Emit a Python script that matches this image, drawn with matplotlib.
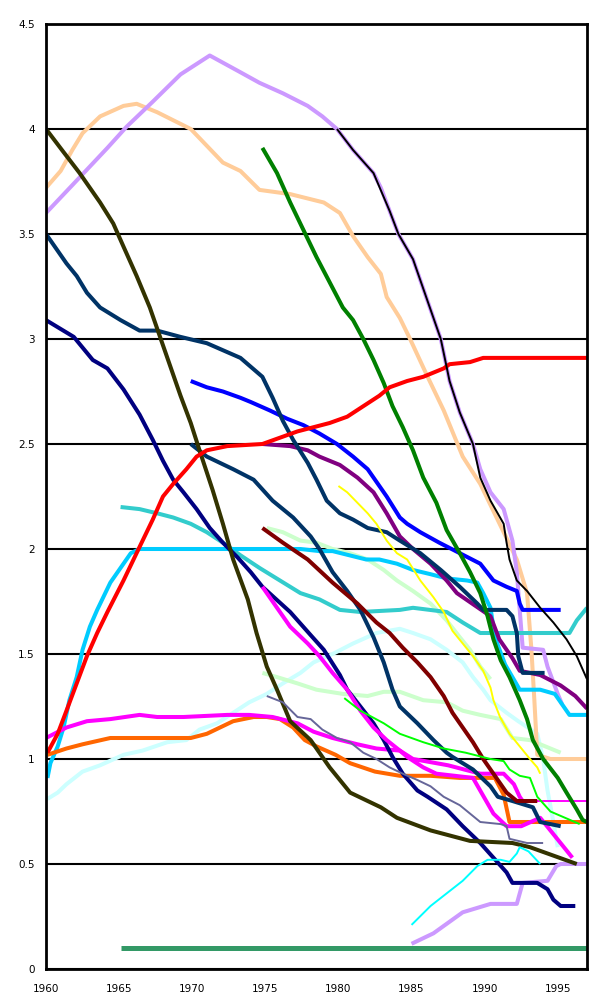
import matplotlib
matplotlib.use("Agg")
import matplotlib.pyplot as plt
import numpy as np

# ---- data: years and values ----
ltturq_x = [1960.1, 1960.8, 1961.4, 1962.5, 1963.7, 1965.3, 1966.6, 1968.3, 1969.6, 1970.5, 1971.7,
            1972.8, 1973.9, 1975.1, 1976.2, 1977.4, 1978.3, 1979.6, 1981.0, 1982.6, 1984.2, 1985.1,
            1986.3, 1987.4, 1988.5, 1989.2, 1989.9, 1990.4, 1991.5, 1992.3, 1993.6, 1994.0, 1994.3,
            1994.7, 1995.0]
ltturq_y = [0.81, 0.84, 0.88, 0.94, 0.97, 1.02, 1.04, 1.08, 1.09, 1.14, 1.17,
            1.22, 1.27, 1.31, 1.36, 1.41, 1.46, 1.50, 1.55, 1.60, 1.62, 1.60,
            1.57, 1.52, 1.46, 1.39, 1.33, 1.28, 1.22, 1.18, 1.12, 1.00, 0.85,
            0.70, 0.58]

ltgreen1_x = [1975.1, 1976.2, 1977.4, 1978.5, 1979.6, 1980.8, 1982.0, 1983.1, 1984.0, 1985.1,
              1986.3, 1987.4, 1988.3, 1989.0, 1989.7, 1990.4]
ltgreen1_y = [2.10, 2.08, 2.04, 2.03, 2.00, 1.98, 1.95, 1.90, 1.85, 1.80,
              1.74, 1.66, 1.58, 1.52, 1.44, 1.38]

ltgreen2_x = [1974.8, 1975.8, 1977.2, 1978.5, 1980.3, 1982.0, 1983.1, 1984.2, 1985.8, 1987.4,
              1988.5, 1989.7, 1991.1, 1991.9, 1993.1, 1994.5, 1995.2]
ltgreen2_y = [1.41, 1.39, 1.36, 1.33, 1.31, 1.30, 1.32, 1.32, 1.28, 1.27,
              1.23, 1.21, 1.19, 1.10, 1.09, 1.05, 1.03]

seagreen_x = [1965.1, 1997.0]
seagreen_y = [0.10, 0.10]

tan_x = [1960.0, 1961.0, 1961.8, 1962.5, 1963.7, 1965.3, 1966.2, 1967.6, 1969.9, 1972.1, 1973.3,
         1974.6, 1976.7, 1979.0, 1980.1, 1981.0, 1982.0, 1982.9, 1983.3, 1984.2, 1984.9, 1986.1,
         1987.2, 1988.5, 1989.7, 1991.3, 1992.2, 1992.9, 1993.2, 1993.4, 1993.6, 1994.5, 1997.0]
tan_y = [3.72, 3.80, 3.90, 3.98, 4.06, 4.11, 4.12, 4.08, 4.00, 3.84, 3.80,
         3.71, 3.69, 3.65, 3.60, 3.49, 3.39, 3.31, 3.20, 3.10, 3.00, 2.82,
         2.66, 2.44, 2.31, 2.08, 1.95, 1.79, 1.52, 1.28, 1.02, 1.00, 1.00]

lav1_x = [1960.0, 1961.9, 1964.2, 1965.5, 1967.3, 1969.2, 1971.2, 1973.3, 1974.6, 1976.2, 1977.9,
          1978.9, 1979.9, 1981.0, 1982.4, 1982.9, 1983.5, 1984.1, 1985.1, 1985.9, 1987.0, 1987.6,
          1988.3, 1989.2, 1989.7, 1990.4, 1991.3, 1991.9, 1992.2, 1992.4, 1992.6, 1994.0, 1994.3,
          1995.0, 1995.3]
lav1_y = [3.60, 3.74, 3.91, 4.01, 4.13, 4.26, 4.35, 4.27, 4.22, 4.17, 4.11,
          4.06, 4.00, 3.90, 3.79, 3.72, 3.61, 3.50, 3.38, 3.22, 3.00, 2.80,
          2.65, 2.50, 2.38, 2.27, 2.19, 2.04, 1.89, 1.71, 1.53, 1.52, 1.44,
          1.31, 1.26]

lav2_x = [1985.0, 1986.5, 1988.5, 1990.4, 1992.2, 1992.6, 1994.3, 1994.9, 1995.2, 1997.0]
lav2_y = [0.12, 0.17, 0.27, 0.31, 0.31, 0.41, 0.42, 0.49, 0.50, 0.50]

olive_x = [1960.0, 1961.2, 1962.3, 1963.7, 1964.6, 1965.3, 1966.2, 1967.1, 1967.8, 1968.5, 1969.2,
           1969.9, 1970.5, 1971.4, 1972.1, 1972.8, 1973.8, 1974.4, 1975.1, 1975.8, 1976.7, 1978.1,
           1979.4, 1980.8, 1982.9, 1984.0, 1986.3, 1989.0, 1991.9, 1993.1, 1994.3, 1996.3]
olive_y = [4.00, 3.89, 3.79, 3.65, 3.55, 3.44, 3.30, 3.15, 3.01, 2.87, 2.73,
           2.60, 2.47, 2.28, 2.12, 1.95, 1.76, 1.60, 1.44, 1.33, 1.18, 1.09,
           0.96, 0.84, 0.77, 0.72, 0.66, 0.61, 0.60, 0.58, 0.55, 0.50]

dkteal1_x = [1960.0, 1960.8, 1961.4, 1962.1, 1962.8, 1963.7, 1965.1, 1966.4, 1967.6, 1969.2, 1971.0,
             1973.3, 1974.8, 1975.5, 1976.2, 1976.9, 1977.9, 1978.5, 1979.2, 1980.1, 1981.0, 1982.0,
             1983.3, 1984.2, 1985.6, 1987.0, 1988.3, 1989.5, 1989.9, 1991.5, 1991.9, 1992.2, 1992.3,
             1992.6, 1994.1]
dkteal1_y = [3.50, 3.42, 3.36, 3.30, 3.22, 3.15, 3.09, 3.04, 3.04, 3.01, 2.98,
             2.91, 2.82, 2.72, 2.61, 2.52, 2.41, 2.33, 2.23, 2.17, 2.14, 2.10,
             2.08, 2.04, 1.98, 1.90, 1.82, 1.74, 1.71, 1.71, 1.68, 1.60, 1.49,
             1.41, 1.41]

dkteal2_x = [1969.9, 1971.0, 1972.8, 1974.2, 1975.5, 1976.9, 1978.1, 1978.7, 1979.6, 1980.6, 1981.5,
             1982.4, 1983.1, 1983.7, 1984.2, 1985.4, 1986.5, 1987.4, 1987.8, 1989.2, 1990.4, 1990.9,
             1991.9, 1993.3, 1993.8, 1995.2]
dkteal2_y = [2.50, 2.44, 2.38, 2.33, 2.23, 2.15, 2.06, 2.00, 1.89, 1.80, 1.71,
             1.58, 1.46, 1.33, 1.25, 1.17, 1.09, 1.03, 1.01, 0.95, 0.87, 0.82,
             0.80, 0.77, 0.70, 0.68]

navy_x = [1960.0, 1961.9, 1963.2, 1964.2, 1965.3, 1966.4, 1967.3, 1968.0, 1968.7, 1969.4, 1970.3,
          1971.2, 1972.1, 1973.1, 1974.0, 1974.8, 1976.7, 1978.1, 1979.0, 1980.1, 1980.6, 1981.5,
          1982.4, 1983.1, 1983.7, 1984.4, 1985.4, 1986.1, 1987.4, 1988.5, 1989.7, 1990.6, 1991.5,
          1991.9, 1993.6, 1994.3, 1994.7, 1995.2, 1996.2]
navy_y = [3.09, 3.01, 2.90, 2.86, 2.76, 2.64, 2.52, 2.42, 2.33, 2.27, 2.19,
          2.10, 2.03, 1.96, 1.89, 1.82, 1.70, 1.59, 1.52, 1.40, 1.33, 1.25,
          1.17, 1.09, 1.01, 0.93, 0.85, 0.82, 0.76, 0.68, 0.60, 0.53, 0.46,
          0.41, 0.41, 0.38, 0.33, 0.30, 0.30]

mag1_x = [1974.8, 1975.8, 1976.7, 1977.9, 1978.7, 1979.6, 1980.6, 1981.5, 1982.4, 1983.3, 1984.2,
          1984.7, 1985.8, 1986.7, 1989.2, 1990.6, 1991.5, 1992.5, 1993.8, 1996.0]
mag1_y = [1.82, 1.72, 1.63, 1.55, 1.49, 1.41, 1.33, 1.23, 1.15, 1.09, 1.04,
          1.01, 0.96, 0.93, 0.91, 0.74, 0.68, 0.68, 0.72, 0.53]

mag2_x = [1960.0, 1961.4, 1962.8, 1964.4, 1966.4, 1967.6, 1969.4, 1972.4, 1973.9, 1975.5, 1977.2,
          1978.3, 1979.6, 1981.3, 1982.6, 1984.2, 1985.1, 1987.5, 1989.7, 1991.3, 1992.0, 1992.4,
          1992.6]
mag2_y = [1.10, 1.15, 1.18, 1.19, 1.21, 1.20, 1.20, 1.21, 1.21, 1.20, 1.17,
          1.13, 1.10, 1.07, 1.05, 1.04, 1.00, 0.97, 0.93, 0.93, 0.88, 0.82,
          0.80]

mag3_x = [1992.6, 1997.0]
mag3_y = [0.80, 0.80]

orange_x = [1960.1, 1961.4, 1962.5, 1964.4, 1967.3, 1969.9, 1971.0, 1971.9, 1972.8, 1974.2, 1975.1,
            1976.0, 1976.9, 1977.7, 1978.5, 1979.8, 1980.8, 1982.5, 1984.2, 1986.3, 1988.3, 1990.7,
            1991.3, 1991.7, 1997.0]
orange_y = [1.02, 1.05, 1.07, 1.10, 1.10, 1.10, 1.12, 1.15, 1.18, 1.20, 1.20,
            1.19, 1.15, 1.09, 1.06, 1.02, 0.98, 0.94, 0.92, 0.92, 0.91, 0.91,
            0.83, 0.70, 0.70]

red_x = [1960.1, 1960.8, 1961.4, 1962.1, 1962.8, 1963.5, 1964.2, 1965.3, 1966.4, 1967.3, 1968.0,
         1968.7, 1969.6, 1970.3, 1971.0, 1972.4, 1974.8, 1976.0, 1977.2, 1978.3, 1979.4, 1980.6,
         1981.7, 1982.8, 1983.5, 1984.7, 1985.8, 1987.2, 1987.6, 1989.0, 1989.9, 1997.0]
red_y = [1.03, 1.12, 1.23, 1.36, 1.49, 1.60, 1.70, 1.85, 2.01, 2.14, 2.25,
         2.31, 2.38, 2.44, 2.47, 2.49, 2.50, 2.53, 2.56, 2.58, 2.60, 2.63,
         2.68, 2.73, 2.77, 2.80, 2.82, 2.86, 2.88, 2.89, 2.91, 2.91]

sky_x = [1960.1, 1960.3, 1960.8, 1961.2, 1961.6, 1962.1, 1962.5, 1963.0, 1963.5, 1964.4, 1965.1,
         1965.8, 1966.4, 1977.4, 1978.7, 1979.6, 1981.9, 1982.8, 1984.0, 1985.1, 1986.3, 1987.4,
         1988.8, 1989.5, 1989.9, 1990.4, 1990.7, 1991.4, 1992.4, 1993.8, 1994.8, 1995.8, 1997.0]
sky_y = [0.91, 0.98, 1.06, 1.15, 1.28, 1.39, 1.52, 1.63, 1.71, 1.84, 1.91,
         1.98, 2.00, 2.00, 1.99, 1.99, 1.95, 1.95, 1.93, 1.90, 1.88, 1.86,
         1.85, 1.84, 1.79, 1.72, 1.58, 1.45, 1.33, 1.33, 1.31, 1.21, 1.21]
sky_thin_from, sky_thin_to = 1966.4, 1977.4

turq_x = [1965.1, 1966.4, 1967.6, 1968.7, 1969.9, 1971.0, 1972.1, 1973.3, 1974.6, 1976.0, 1977.4,
          1978.7, 1980.1, 1981.5, 1984.2, 1985.1, 1987.4, 1988.5, 1989.7, 1995.8, 1996.3, 1997.0]
turq_y = [2.20, 2.19, 2.17, 2.15, 2.12, 2.08, 2.03, 1.97, 1.91, 1.85, 1.79,
          1.76, 1.71, 1.70, 1.71, 1.72, 1.70, 1.65, 1.60, 1.60, 1.66, 1.72]

blue_x = [1969.9, 1971.0, 1972.1, 1973.3, 1974.0, 1975.3, 1976.5, 1977.6, 1978.7, 1979.9, 1981.0,
          1982.0, 1983.3, 1984.2, 1984.7, 1985.6, 1986.9, 1988.3, 1989.7, 1990.6, 1991.5, 1992.2,
          1992.4, 1992.6, 1995.2]
blue_y = [2.80, 2.77, 2.75, 2.72, 2.70, 2.66, 2.62, 2.59, 2.55, 2.50, 2.44,
          2.38, 2.25, 2.15, 2.12, 2.08, 2.03, 1.98, 1.93, 1.85, 1.82, 1.80,
          1.74, 1.71, 1.71]

purple_x = [1974.8, 1976.7, 1977.9, 1978.7, 1980.1, 1981.3, 1982.4, 1983.3, 1984.2, 1985.1, 1986.3,
            1987.4, 1988.1, 1990.4, 1991.0, 1991.9, 1992.4, 1993.8, 1995.2, 1996.2, 1997.0]
purple_y = [2.50, 2.49, 2.47, 2.44, 2.40, 2.34, 2.27, 2.17, 2.06, 2.00, 1.93,
            1.85, 1.79, 1.68, 1.57, 1.48, 1.42, 1.40, 1.35, 1.30, 1.24]

green_x = [1974.8, 1975.8, 1976.7, 1977.6, 1978.5, 1979.4, 1980.3, 1981.0, 1981.7, 1982.4, 1983.1,
           1983.7, 1984.4, 1985.1, 1985.8, 1986.7, 1987.4, 1988.3, 1989.0, 1989.7, 1990.2, 1990.6,
           1991.1, 1991.7, 1992.4, 1992.9, 1993.3, 1994.0, 1995.0, 1995.6, 1996.3, 1996.7, 1997.0]
green_y = [3.91, 3.79, 3.65, 3.52, 3.39, 3.27, 3.15, 3.09, 3.00, 2.90, 2.79,
           2.68, 2.58, 2.47, 2.34, 2.22, 2.09, 1.98, 1.89, 1.79, 1.68, 1.57,
           1.47, 1.39, 1.28, 1.19, 1.09, 1.00, 0.91, 0.84, 0.76, 0.71, 0.70]

maroon_x = [1974.8, 1976.2, 1977.9, 1979.6, 1981.3, 1982.6, 1983.5, 1984.4, 1985.4, 1986.3, 1987.2,
            1987.8, 1988.5, 1989.2, 1989.9, 1990.9, 1991.5, 1992.2, 1993.6]
maroon_y = [2.10, 2.03, 1.95, 1.84, 1.74, 1.65, 1.60, 1.53, 1.46, 1.39, 1.30,
            1.22, 1.15, 1.08, 1.00, 0.90, 0.84, 0.80, 0.80]

yellow_x = [1980.0, 1980.6, 1981.3, 1982.0, 1982.6, 1983.3, 1984.0, 1984.7, 1985.6, 1986.5, 1987.2,
            1987.8, 1988.5, 1989.2, 1989.9, 1990.4, 1990.6, 1991.05, 1991.7, 1992.4, 1993.1, 1993.6,
            1993.8]
yellow_y = [2.30, 2.27, 2.22, 2.17, 2.12, 2.04, 1.98, 1.95, 1.85, 1.77, 1.70,
            1.61, 1.55, 1.49, 1.42, 1.34, 1.28, 1.20, 1.12, 1.06, 1.00, 0.96,
            0.93]

black_x = [1979.9, 1981.0, 1982.4, 1983.5, 1984.1, 1985.1, 1985.9, 1987.0, 1987.6, 1988.3, 1989.2,
           1989.7, 1990.4, 1991.3, 1991.5, 1991.7, 1992.2, 1992.9, 1993.8, 1994.7, 1995.6, 1996.3,
           1997.0]
black_y = [4.00, 3.90, 3.79, 3.61, 3.50, 3.38, 3.22, 3.00, 2.80, 2.65, 2.50,
           2.34, 2.23, 2.12, 2.03, 1.95, 1.85, 1.80, 1.72, 1.65, 1.57, 1.49,
           1.38]

brgreen_x = [1980.4, 1981.5, 1983.1, 1984.2, 1985.8, 1987.2, 1988.7, 1990.4, 1991.3, 1991.7, 1992.4,
             1993.1, 1993.6, 1994.5, 1995.5, 1996.5]
brgreen_y = [1.29, 1.23, 1.17, 1.12, 1.08, 1.05, 1.03, 1.00, 0.99, 0.95, 0.92,
             0.91, 0.82, 0.75, 0.72, 0.69]

slate_x = [1975.1, 1976.2, 1977.2, 1978.1, 1978.9, 1979.9, 1980.8, 1981.7, 1982.6, 1983.5, 1984.4,
           1985.4, 1986.3, 1987.2, 1988.3, 1989.7, 1991.1, 1991.5, 1991.7, 1992.9, 1994.0]
slate_y = [1.30, 1.27, 1.20, 1.19, 1.14, 1.10, 1.08, 1.03, 1.00, 0.96, 0.93,
           0.90, 0.87, 0.82, 0.78, 0.70, 0.69, 0.68, 0.62, 0.60, 0.60]

cyan_x = [1985.0, 1986.3, 1987.4, 1988.5, 1989.5, 1990.2, 1991.1, 1991.7, 1992.2, 1992.4, 1993.0, 1993.8]
cyan_y = [0.21, 0.30, 0.36, 0.42, 0.49, 0.52, 0.52, 0.51, 0.55, 0.58, 0.56, 0.50]

x_ticks = [1960, 1965, 1970, 1975, 1980, 1985, 1990, 1995]
y_ticks = [0, 0.5, 1, 1.5, 2, 2.5, 3, 3.5, 4, 4.5]

THICK = 2.9
THIN = 1.4

series = [
    (ltturq_x, ltturq_y, '#CCFFFF', THICK),
    (ltgreen1_x, ltgreen1_y, '#CCFFCC', THICK),
    (ltgreen2_x, ltgreen2_y, '#CCFFCC', THICK),
    (seagreen_x, seagreen_y, '#339966', 3.6),
    (tan_x, tan_y, '#FFCC99', THICK),
    (lav1_x, lav1_y, '#CC99FF', THICK),
    (lav2_x, lav2_y, '#CC99FF', THICK),
    (turq_x, turq_y, '#33CCCC', THICK),
    (orange_x, orange_y, '#FF6600', THICK),
    (mag2_x, mag2_y, '#FF00FF', THICK),
    (mag3_x, mag3_y, '#FF00FF', THIN),
    (navy_x, navy_y, '#000080', THICK),
    (mag1_x, mag1_y, '#FF00FF', THICK),
    (dkteal2_x, dkteal2_y, '#003366', THICK),
    (maroon_x, maroon_y, '#800000', THICK),
    (purple_x, purple_y, '#800080', THICK),
    (blue_x, blue_y, '#0000FF', THICK),
    (dkteal1_x, dkteal1_y, '#003366', THICK),
    (olive_x, olive_y, '#333300', THICK),
    (green_x, green_y, '#008000', THICK),
    (red_x, red_y, '#FF0000', THICK),
    (yellow_x, yellow_y, '#FFFF00', THIN),
    (slate_x, slate_y, '#666699', THIN),
    (brgreen_x, brgreen_y, '#00FF00', THIN),
    (cyan_x, cyan_y, '#00FFFF', THIN),
    (black_x, black_y, '#000000', THIN),
]

fig = plt.figure(figsize=(5.92, 10), dpi=100)
ax = fig.add_axes([46 / 592, 31 / 1000, 541 / 592, 945 / 1000])

# sky blue: thick, except a thin flat stretch in the middle
sx = np.array(sky_x)
sy = np.array(sky_y)
ax.plot(sx, sy, color='#00CCFF', lw=THIN, solid_capstyle='butt')
thick_part = np.where((sx <= sky_thin_from) | (sx >= sky_thin_to), sy, np.nan)
for x, y, c, w in series[:8]:
    ax.plot(x, y, color=c, lw=w, solid_capstyle='butt')
ax.plot(sx, thick_part, color='#00CCFF', lw=THICK, solid_capstyle='butt')
for x, y, c, w in series[8:]:
    ax.plot(x, y, color=c, lw=w, solid_capstyle='butt')

ax.set_xlim(1960, 1997)
ax.set_ylim(0, 4.5)
ax.set_xticks(x_ticks)
ax.set_xticklabels([str(t) for t in x_ticks])
ax.set_yticks(y_ticks)
ax.set_yticklabels(['%g' % t for t in y_ticks])
ax.tick_params(axis='both', length=0, labelsize=7.5, colors='black')
ax.tick_params(axis='y', pad=8)
ax.tick_params(axis='x', pad=11)

ax.yaxis.grid(True, color='black', lw=1.5)
ax.set_axisbelow(True)
for s in ax.spines.values():
    s.set_color('black')
    s.set_linewidth(2)

fig.savefig('out.png', dpi=100)
